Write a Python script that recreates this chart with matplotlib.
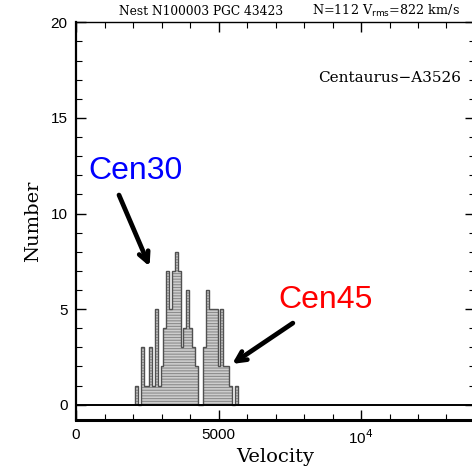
import matplotlib
matplotlib.use("Agg")
import matplotlib.pyplot as plt
import numpy as np
from matplotlib.ticker import MultipleLocator, FixedLocator, FixedFormatter

# ---- data ----
bin_centers = [2120, 2220, 2320, 2420, 2520, 2620, 2720, 2820, 2920, 3020,
               3120, 3220, 3320, 3420, 3520, 3620, 3720, 3820, 3920, 4020,
               4120, 4220, 4320, 4420, 4520, 4620, 4720, 4820, 4920, 5020,
               5120, 5220, 5320, 5420, 5520, 5620]
counts = [1, 0, 3, 1, 1, 3, 1, 5, 1, 2,
          4, 7, 5, 7, 8, 7, 3, 4, 6, 4,
          3, 2, 0, 0, 3, 6, 5, 5, 5, 2,
          5, 2, 2, 1, 0, 1]
bin_width = 100
x_ticks = [0, 5000, 10000]
x_ticklabels = ["0", "5000", "10$^4$"]
y_ticks = [0, 5, 10, 15, 20]

plt.rcParams['hatch.linewidth'] = 0.8

fig = plt.figure(figsize=(4.72, 4.71), dpi=100)
ax = fig.add_axes([76/472, 51/471, (475-76)/472, (420.4-22.7)/471])

centers = np.array(bin_centers, dtype=float)
edges = np.append(centers - bin_width / 2, centers[-1] + bin_width / 2)

# filled, hatched histogram
ax.stairs(counts, edges, fill=True, facecolor='#cdcdcd', edgecolor='#8c8c8c',
          linewidth=0, hatch='------', zorder=2)
# outline
ax.stairs(counts, edges, fill=False, edgecolor='#505050', linewidth=1.0, zorder=3)

ax.axhline(0, color='black', lw=1.4, zorder=4)

ax.set_xlim(0, 14000)
ax.set_ylim(-0.8, 20)

ax.xaxis.set_major_locator(FixedLocator(x_ticks))
ax.xaxis.set_major_formatter(FixedFormatter(x_ticklabels))
ax.xaxis.set_minor_locator(MultipleLocator(1000))
ax.yaxis.set_major_locator(FixedLocator(y_ticks))
ax.yaxis.set_minor_locator(MultipleLocator(1))

ax.tick_params(which='both', direction='in', top=True, right=True,
               labelsize=11, color='black')
ax.tick_params(which='major', length=7, width=1.0, pad=6)
ax.tick_params(which='minor', length=4, width=0.8)
for lab in ax.get_xticklabels() + ax.get_yticklabels():
    lab.set_family('Liberation Sans')

ax.spines['bottom'].set_linewidth(2.2)
ax.spines['left'].set_linewidth(1.6)
ax.spines['top'].set_linewidth(1.0)
ax.spines['right'].set_linewidth(1.0)

ax.set_xlabel('Velocity', family='DejaVu Serif', fontsize=14, labelpad=1)
ax.set_ylabel('Number', family='DejaVu Serif', fontsize=14, labelpad=6)

fig.text(119/472, 1 - 15/471, 'Nest N100003 PGC 43423', family='DejaVu Serif',
         fontsize=8.8, ha='left', va='baseline')
fig.text(460/472, 1 - 15/471, 'N=112 V$_{\\rm rms}$=822 km/s', family='DejaVu Serif',
         fontsize=9.2, ha='right', va='baseline')

ax.text(0.965, 0.86, 'Centaurus\u2212A3526', transform=ax.transAxes,
        family='DejaVu Serif', fontsize=11, ha='right', va='center')

ax.text(2105, 12.2, 'Cen30', color='#0000ff', family='Liberation Sans',
        fontsize=23, ha='center', va='center')
ax.text(8740, 5.5, 'Cen45', color='#ff0000', family='Liberation Sans',
        fontsize=23, ha='center', va='center')

ax.annotate('', xy=(2620, 7.1), xytext=(1470, 11.1),
            arrowprops=dict(arrowstyle='->,head_length=0.7,head_width=0.35',
                            lw=3.4, color='black'))
ax.annotate('', xy=(5400, 2.05), xytext=(7690, 4.35),
            arrowprops=dict(arrowstyle='->,head_length=0.7,head_width=0.35',
                            lw=3.4, color='black'))

fig.savefig('out.png', dpi=100)
